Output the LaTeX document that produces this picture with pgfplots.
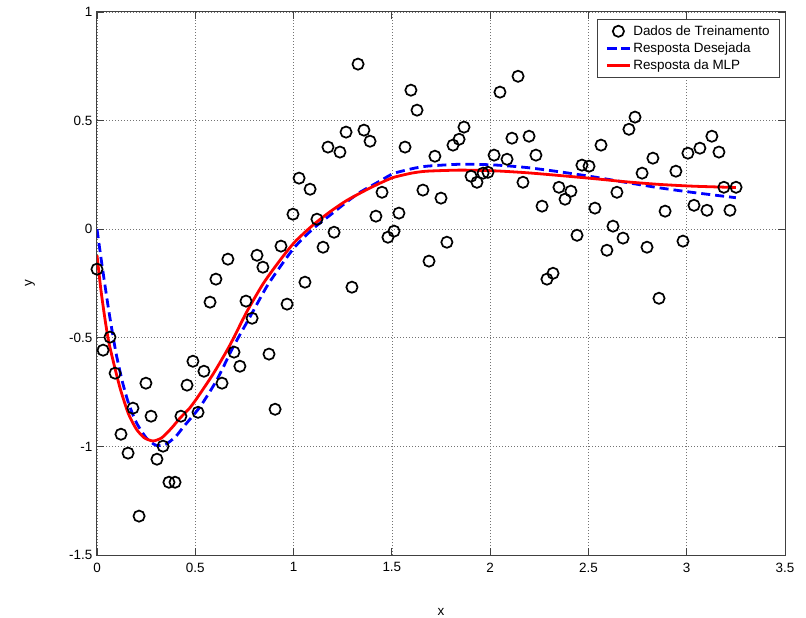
\documentclass[border=0pt]{standalone}
\usepackage{pgfplots}
\pgfplotsset{compat=1.18}
\usepackage{fontspec}
\setmainfont{Liberation Sans}
\pgfplotstableread{
x y
0.000 -0.184
0.031 -0.557
0.066 -0.497
0.092 -0.663
0.122 -0.944
0.158 -1.031
0.183 -0.824
0.214 -1.321
0.249 -0.709
0.275 -0.861
0.305 -1.059
0.336 -0.999
0.366 -1.165
0.397 -1.165
0.427 -0.861
0.458 -0.718
0.488 -0.608
0.514 -0.843
0.544 -0.654
0.575 -0.336
0.605 -0.230
0.636 -0.709
0.666 -0.138
0.697 -0.566
0.727 -0.631
0.758 -0.331
0.789 -0.410
0.814 -0.120
0.844 -0.175
0.875 -0.575
0.906 -0.829
0.936 -0.078
0.967 -0.345
0.997 0.069
1.028 0.235
1.058 -0.244
1.084 0.184
1.119 0.046
1.150 -0.083
1.175 0.378
1.206 -0.014
1.236 0.355
1.267 0.447
1.297 -0.267
1.328 0.760
1.358 0.456
1.389 0.405
1.419 0.060
1.450 0.170
1.480 -0.037
1.511 -0.009
1.536 0.074
1.567 0.378
1.597 0.640
1.628 0.548
1.658 0.180
1.689 -0.147
1.719 0.336
1.750 0.143
1.780 -0.060
1.811 0.387
1.842 0.414
1.867 0.470
1.903 0.244
1.933 0.216
1.964 0.258
1.989 0.262
2.020 0.341
2.050 0.631
2.086 0.322
2.111 0.419
2.142 0.704
2.167 0.216
2.198 0.428
2.233 0.341
2.264 0.106
2.289 -0.230
2.320 -0.203
2.350 0.193
2.381 0.138
2.411 0.175
2.442 -0.028
2.467 0.295
2.503 0.290
2.533 0.097
2.564 0.387
2.594 -0.097
2.625 0.014
2.645 0.170
2.676 -0.041
2.706 0.460
2.737 0.516
2.773 0.258
2.798 -0.083
2.828 0.327
2.859 -0.318
2.890 0.083
2.945 0.267
2.981 -0.055
3.006 0.350
3.037 0.110
3.067 0.373
3.103 0.087
3.128 0.428
3.164 0.355
3.189 0.193
3.220 0.087
3.251 0.193
}\dados
\pgfplotstableread{
x y
0.000 0.000
0.020 -0.130
0.040 -0.255
0.060 -0.375
0.080 -0.485
0.100 -0.585
0.130 -0.705
0.160 -0.800
0.200 -0.890
0.250 -0.960
0.300 -0.995
0.350 -0.990
0.400 -0.955
0.440 -0.910
0.524 -0.818
0.609 -0.695
0.693 -0.542
0.778 -0.404
0.863 -0.265
0.931 -0.174
1.007 -0.081
1.100 0.003
1.185 0.064
1.270 0.125
1.338 0.170
1.440 0.222
1.507 0.256
1.600 0.278
1.677 0.290
1.846 0.299
2.016 0.296
2.185 0.284
2.355 0.264
2.525 0.241
2.694 0.215
2.864 0.190
3.033 0.169
3.250 0.145
}\desejada
\pgfplotstableread{
x y
0.000 -0.120
0.020 -0.280
0.040 -0.410
0.060 -0.520
0.090 -0.635
0.120 -0.740
0.160 -0.850
0.200 -0.920
0.240 -0.960
0.285 -0.975
0.330 -0.960
0.380 -0.915
0.422 -0.870
0.470 -0.825
0.507 -0.780
0.592 -0.665
0.676 -0.534
0.761 -0.382
0.846 -0.250
0.931 -0.143
1.007 -0.058
1.100 0.020
1.185 0.080
1.270 0.132
1.372 0.182
1.440 0.212
1.507 0.238
1.600 0.258
1.677 0.267
1.846 0.272
2.016 0.269
2.185 0.260
2.355 0.247
2.525 0.233
2.694 0.218
2.864 0.206
3.033 0.198
3.250 0.192
}\mlp
\begin{document}
\fontsize{13.5}{16}\selectfont
\begin{tikzpicture}
\useasboundingbox (-97bp,-63bp) rectangle (709bp,555bp);
\begin{axis}[
  at={(0,0)}, anchor=south west,
  scale only axis, width=688bp, height=543bp,
  xmin=0, xmax=3.5, ymin=-1.5, ymax=1,
  xtick={0,0.5,1,1.5,2,2.5,3,3.5},
  ytick={-1.5,-1,-0.5,0,0.5,1},
  xticklabels={0,0.5,1,1.5,2,2.5,3,3.5},
  yticklabels={-1.5,-1,-0.5,0,0.5,1},
  /pgf/number format/assume math mode=true,
  ticklabel style={font=\fontsize{13.5}{16}\selectfont},
  xticklabel style={yshift=-3bp},
  grid=major,
  major grid style={black!55, line width=0.6bp, dash pattern=on 1bp off 2bp},
  tick align=inside,
  xtick pos=both, ytick pos=both,
  major tick length=7bp,
  every tick/.style={black!75, line width=0.8bp},
  axis line style={black!75, line width=1bp},
  xlabel={x}, ylabel={y},
  xlabel style={at={(axis description cs:0.5,-0.105)}, anchor=center, font=\fontsize{13.5}{16}\selectfont},
  ylabel style={at={(axis description cs:-0.0974,0.5)}, anchor=center, font=\fontsize{13.5}{16}\selectfont},
  legend style={at={(axis description cs:1,1)}, anchor=north east, xshift=-5bp, yshift=-7bp,
    draw=black!75, line width=0.8bp, font=\fontsize{13.5}{16}\selectfont,
    inner xsep=8bp, inner ysep=4bp, row sep=1.5bp,
    /tikz/every even column/.append style={column sep=9bp}},
  legend cell align=left,
  legend image code/.code={\draw[mark repeat=2,mark phase=2] plot coordinates {(0bp,0bp) (11.5bp,0bp) (23bp,0bp)};},
]
\addplot[only marks, mark=o, mark size=5.6bp, mark options={line width=1.7bp, draw=black}] table[x=x,y=y] {\dados};
\addlegendentry{Dados de Treinamento}
\addplot[blue, line width=2.8bp, dash pattern=on 9bp off 5bp, smooth, tension=0.4] table[x=x,y=y] {\desejada};
\addlegendentry{Resposta Desejada}
\addplot[red, line width=2.8bp, smooth, tension=0.4] table[x=x,y=y] {\mlp};
\addlegendentry{Resposta da MLP}
\end{axis}
\end{tikzpicture}
\end{document}
